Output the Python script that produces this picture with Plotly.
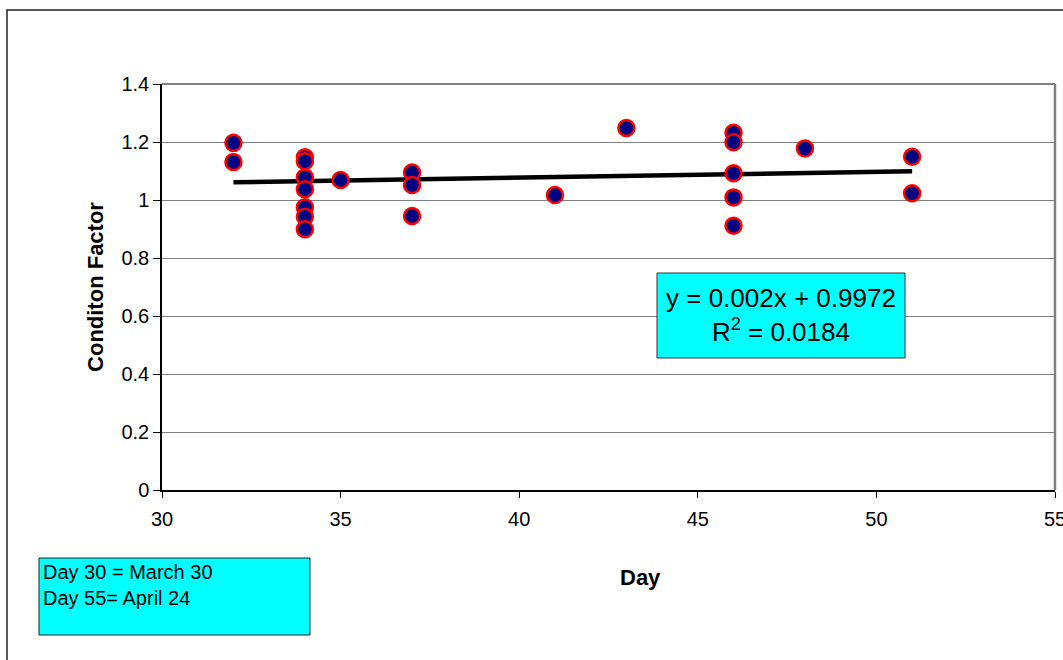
import plotly.graph_objects as go

# Data
day = [32, 32, 34, 34, 34, 34, 34, 34, 34, 35, 37, 37, 37, 41, 43, 46, 46, 46, 46, 46, 48, 51, 51]
condition = [1.197, 1.131, 1.147, 1.134, 1.078, 1.037, 0.975, 0.942, 0.899, 1.069,
             1.095, 1.052, 0.945, 1.017, 1.248, 1.232, 1.199, 1.092, 1.009, 0.911,
             1.178, 1.149, 1.023]
slope = 0.002
intercept = 0.9972
r2 = 0.0184
trend_x = [min(day), max(day)]
trend_y = [slope * x + intercept for x in trend_x]
x_ticks = [30, 35, 40, 45, 50, 55]
y_ticks = [0, 0.2, 0.4, 0.6, 0.8, 1.0, 1.2, 1.4]
y_tick_text = ["0", "0.2", "0.4", "0.6", "0.8", "1", "1.2", "1.4"]

FONT = "Liberation Sans, Arial, sans-serif"

fig = go.Figure()
fig.add_trace(go.Scatter(
    x=trend_x, y=trend_y, mode="lines",
    line=dict(color="black", width=4.5), showlegend=False, hoverinfo="skip"))
fig.add_trace(go.Scatter(
    x=day, y=condition, mode="markers",
    marker=dict(size=16, color="#000080", line=dict(color="#FF0000", width=2.5)),
    showlegend=False))

fig.update_layout(
    width=1063, height=660,
    margin=dict(l=162, r=8, t=84, b=170, autoexpand=False),
    paper_bgcolor="white", plot_bgcolor="white",
    font=dict(family=FONT, color="black", size=20),
    xaxis=dict(range=[30, 55], tickvals=x_ticks, ticks="outside", ticklen=6,
               tickcolor="black", showgrid=False, zeroline=False,
               showline=True, linecolor="black", linewidth=1.5,
               tickfont=dict(size=20), ticklabeloverflow="allow",
               ticklabelstandoff=4, automargin=False, title=None),
    yaxis=dict(range=[0, 1.4], tickvals=y_ticks, ticktext=y_tick_text,
               ticks="outside", ticklen=7, tickcolor="black",
               showgrid=True, gridcolor="#808080", gridwidth=1,
               zeroline=False, showline=True, linecolor="black", linewidth=1.5,
               tickfont=dict(size=20), automargin=False,
               title=dict(text="<b>Conditon Factor</b>", font=dict(size=22), standoff=12)),
    shapes=[
        # outer chart border
        dict(type="rect", xref="paper", yref="paper",
             x0=(7 - 162) / 893, x1=(1075 - 162) / 893,
             y0=(490 - 680) / 406, y1=(490 - 10) / 406,
             line=dict(color="#222222", width=1.5), layer="below"),
        # plot right border
        dict(type="line", xref="paper", yref="paper", x0=1, x1=1, y0=0, y1=1,
             line=dict(color="#808080", width=2.5)),
        # top border
        dict(type="line", xref="paper", yref="paper", x0=0, x1=1, y0=1, y1=1,
             line=dict(color="#808080", width=2)),
        # equation box
        dict(type="rect", xref="paper", yref="paper",
             x0=(657 - 162) / 893, x1=(905 - 162) / 893,
             y0=(490 - 358) / 406, y1=(490 - 273) / 406,
             fillcolor="#00FFFF", line=dict(color="#333333", width=1)),
        # note box
        dict(type="rect", xref="paper", yref="paper",
             x0=(39 - 162) / 893, x1=(310 - 162) / 893,
             y0=(490 - 635) / 406, y1=(490 - 558) / 406,
             fillcolor="#00FFFF", line=dict(color="#222222", width=1)),
    ],
    annotations=[
        dict(xref="paper", yref="paper", x=(781 - 162) / 893, y=(490 - 315) / 406,
             text=f"y = {slope}x + {intercept}<br>R<sup>2</sup> = {r2}",
             showarrow=False, font=dict(size=26), align="center",
             xanchor="center", yanchor="middle"),
        dict(xref="paper", yref="paper", x=(41 - 162) / 893, y=(490 - 559) / 406,
             text="Day 30 = March 30<br>Day 55= April 24",
             showarrow=False, font=dict(size=20), align="left",
             xanchor="left", yanchor="top"),
        dict(xref="paper", yref="paper", x=(640 - 162) / 893, y=(490 - 577) / 406,
             text="<b>Day</b>", showarrow=False, font=dict(size=22),
             xanchor="center", yanchor="middle"),
    ],
)

fig.write_html("out.html", config={"displayModeBar": False})

# remove default page margin so the figure sits at the window origin
with open("out.html", "r", encoding="utf-8") as f:
    html = f.read()
html = html.replace("<head>", "<head><style>html,body{margin:0;padding:0;overflow:hidden}</style>", 1)
with open("out.html", "w", encoding="utf-8") as f:
    f.write(html)
